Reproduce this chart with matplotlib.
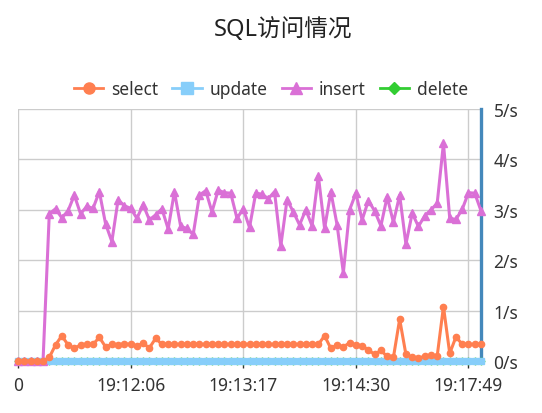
import numpy as np
import matplotlib
matplotlib.use("Agg")
import matplotlib.pyplot as plt
from matplotlib.lines import Line2D

plt.rcParams['font.family'] = ['Noto Sans', 'Noto Sans CJK SC', 'DejaVu Sans']

# 75 sample points, category axis; only every 18th label is shown
tick_pos = [0, 18, 36, 54, 72]
tick_labels = ["0", "19:12:06", "19:13:17", "19:14:30", "19:17:49"]

select = [0, 0, 0, 0, 0, 0.07, 0.32, 0.5, 0.32, 0.25,
          0.32, 0.33, 0.33, 0.47, 0.28, 0.33, 0.32, 0.34, 0.33, 0.3,
          0.35, 0.26, 0.45, 0.33, 0.33, 0.33, 0.33, 0.33, 0.33, 0.33,
          0.33, 0.33, 0.33, 0.33, 0.33, 0.33, 0.33, 0.33, 0.33, 0.33,
          0.33, 0.33, 0.33, 0.33, 0.33, 0.33, 0.33, 0.33, 0.33, 0.5,
          0.25, 0.32, 0.28, 0.36, 0.32, 0.3, 0.22, 0.13, 0.21, 0.09,
          0.07, 0.83, 0.13, 0.07, 0.05, 0.1, 0.11, 0.1, 1.08, 0.15,
          0.48, 0.33, 0.33, 0.33, 0.33]
update = [0] * 75
insert = [0, 0, 0, 0, 0, 2.92, 3.02, 2.84, 2.98, 3.29,
          2.92, 3.07, 3.03, 3.36, 2.72, 2.37, 3.2, 3.08, 3.03, 2.83,
          3.1, 2.8, 2.9, 3.02, 2.62, 3.36, 2.67, 2.63, 2.51, 3.29,
          3.38, 2.96, 3.39, 3.34, 3.33, 2.83, 3.02, 2.65, 3.33, 3.31,
          3.22, 3.36, 2.28, 3.2, 2.96, 2.7, 3.0, 2.68, 3.68, 2.63,
          3.36, 2.7, 1.75, 3.0, 3.33, 2.8, 3.18, 2.98, 2.68, 3.26,
          2.75, 3.29, 2.32, 2.93, 2.67, 2.88, 3.0, 3.13, 4.32, 2.83,
          2.81, 3.01, 3.34, 3.33, 2.98]
delete = [0] * 75

x = np.arange(len(insert))

fig = plt.figure(figsize=(5.42, 4.14), dpi=100)
ax = fig.add_axes([18/542, 52/414, 463/542, 252/414])

ax.plot(x, delete, color='#32cd32', lw=2, marker='D', ms=3.5, clip_on=False, zorder=3)
ax.plot(x, update, color='#87cefa', lw=2, marker='s', ms=4.5, clip_on=False, zorder=4)
ax.plot(x, insert, color='#da70d6', lw=2.2, marker='^', ms=5.5, clip_on=False, zorder=5)
ax.plot(x, select, color='#ff7f50', lw=2.2, marker='o', ms=4.5, clip_on=False, zorder=6)

ax.set_xlim(0, 74)
ax.set_ylim(0, 5)
ax.set_xticks(tick_pos)
ax.set_xticklabels(tick_labels)
ax.set_yticks(range(6))
ax.set_yticklabels([f"{v}/s" for v in range(6)])
ax.yaxis.tick_right()
ax.grid(True, color='#cccccc', lw=1)
ax.set_axisbelow(True)
ax.tick_params(axis='x', length=5, width=1, color='#333333', labelsize=12.5, labelcolor='#333333', pad=6)
ax.tick_params(axis='y', length=0, labelsize=12.5, labelcolor='#333333', pad=9)
for s in ['left', 'top']:
    ax.spines[s].set_visible(False)
ax.spines['bottom'].set_color('#aaaaaa')
ax.spines['right'].set_color('#4488bb')
ax.spines['right'].set_linewidth(2.4)

handles = [
    Line2D([], [], color='#ff7f50', lw=2, marker='o', ms=8),
    Line2D([], [], color='#87cefa', lw=2, marker='s', ms=8),
    Line2D([], [], color='#da70d6', lw=2, marker='^', ms=9),
    Line2D([], [], color='#32cd32', lw=2, marker='D', ms=6),
]
leg = fig.legend(handles, ['select', 'update', 'insert', 'delete'], loc='center',
                 bbox_to_anchor=(271/542, 1 - 90/414), ncol=4, frameon=False,
                 fontsize=12.5, handlelength=1.7, handletextpad=0.45, columnspacing=0.8)
for t in leg.get_texts():
    t.set_color('#333333')

fig.text(283/542, 1 - 30/414, "SQL访问情况", ha='center', va='center',
         fontsize=17, color='#222222')

fig.savefig("out.png", dpi=100)
